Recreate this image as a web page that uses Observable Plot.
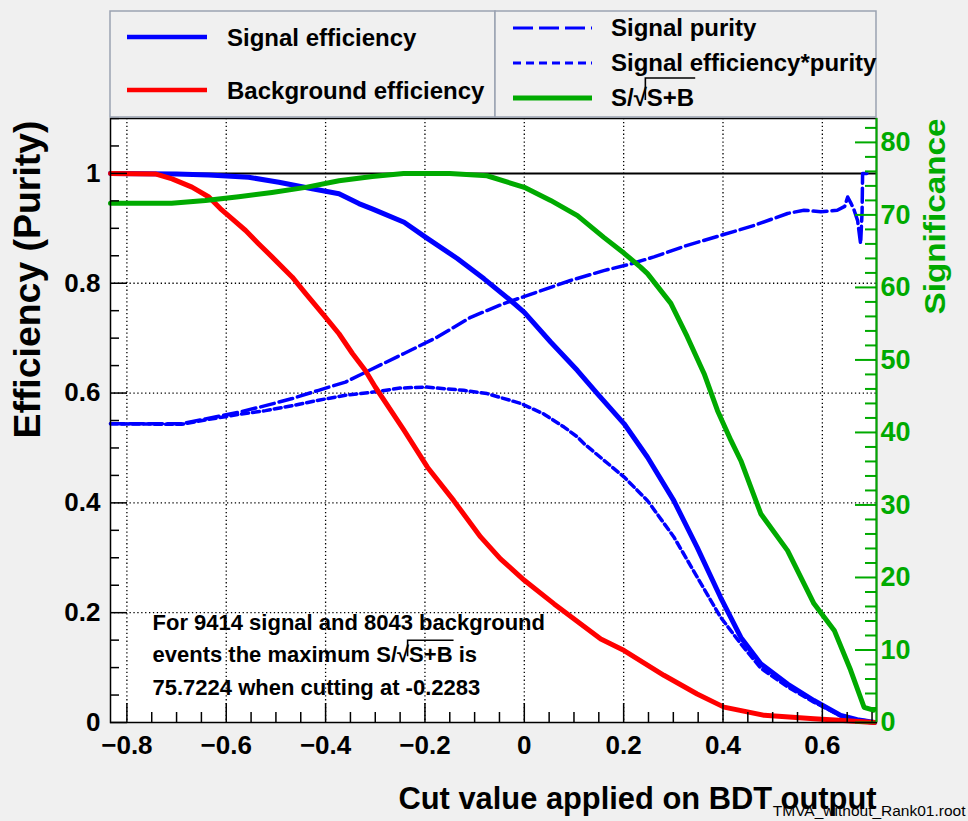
<!DOCTYPE html>
<html><head><meta charset="utf-8">
<script src="https://cdn.jsdelivr.net/npm/d3@7"></script>
<script src="https://cdn.jsdelivr.net/npm/@observablehq/plot@0.6"></script>
<style>
html,body{margin:0;padding:0;background:#f0f0f0;}
#chart{position:relative;width:968px;height:821px;overflow:hidden;}
#chart svg{display:block;}
</style></head><body><div id="chart"></div>
<script>
const FONT = "'Liberation Sans', Arial, Helvetica, sans-serif";

// ---------------- data ----------------
const sigEffX = [-0.833,-0.70,-0.635,-0.555,-0.494,-0.427,-0.373,-0.333,-0.305,-0.242,-0.199,-0.135,-0.081,-0.028,0.0,0.053,0.107,0.147,0.201,0.248,0.301,0.348,0.395,0.436,0.476,0.530,0.583,0.637,0.670,0.705];
const sigEffY = [1.0,0.999,0.997,0.993,0.984,0.972,0.963,0.945,0.935,0.911,0.884,0.845,0.808,0.769,0.747,0.693,0.641,0.599,0.544,0.483,0.404,0.319,0.228,0.155,0.107,0.070,0.040,0.013,0.005,0.0];

const bkgEffX = [-0.833,-0.743,-0.709,-0.669,-0.635,-0.612,-0.588,-0.561,-0.535,-0.508,-0.467,-0.440,-0.400,-0.373,-0.346,-0.320,-0.300,-0.242,-0.195,-0.142,-0.088,-0.048,0.0,0.060,0.113,0.154,0.201,0.281,0.348,0.402,0.483,0.583,0.650,0.705];
const bkgEffY = [1.0,0.999,0.990,0.975,0.957,0.936,0.917,0.896,0.872,0.848,0.811,0.781,0.738,0.708,0.672,0.641,0.611,0.532,0.465,0.404,0.338,0.298,0.259,0.216,0.180,0.152,0.131,0.086,0.052,0.028,0.013,0.007,0.003,0.0];

const purityX = [-0.833,-0.69,-0.642,-0.575,-0.521,-0.467,-0.414,-0.360,-0.315,-0.242,-0.175,-0.108,-0.041,0.026,0.093,0.160,0.214,0.261,0.328,0.395,0.462,0.530,0.563,0.597,0.630,0.645,0.651,0.658,0.664,0.671,0.677,0.680,0.681,0.690];
const purityY = [0.544,0.544,0.553,0.565,0.577,0.590,0.605,0.620,0.640,0.672,0.702,0.738,0.763,0.784,0.805,0.823,0.835,0.848,0.869,0.887,0.905,0.927,0.933,0.930,0.933,0.940,0.957,0.945,0.933,0.914,0.872,0.930,1.0,1.0];

const effPurX = [-0.833,-0.69,-0.642,-0.575,-0.521,-0.467,-0.414,-0.360,-0.310,-0.250,-0.199,-0.122,-0.075,-0.007,0.039,0.080,0.107,0.120,0.201,0.248,0.301,0.348,0.395,0.436,0.476,0.530,0.583,0.637,0.670,0.690];
const effPurY = [0.544,0.543,0.551,0.561,0.568,0.577,0.587,0.596,0.601,0.609,0.611,0.605,0.599,0.581,0.562,0.538,0.520,0.508,0.447,0.404,0.338,0.265,0.192,0.143,0.099,0.065,0.037,0.012,0.005,0.003];

const signifX = [-0.833,-0.71,-0.642,-0.575,-0.508,-0.440,-0.373,-0.306,-0.243,-0.15,-0.075,0.0,0.053,0.107,0.160,0.201,0.234,0.248,0.295,0.328,0.362,0.389,0.416,0.436,0.476,0.530,0.583,0.624,0.657,0.684,0.703];
const signifY = [71.6,71.6,72.0,72.5,73.1,73.8,74.7,75.3,75.7,75.7,75.4,73.8,72.0,69.9,66.9,64.7,62.8,61.9,57.8,53.2,48.1,43.0,38.9,36.1,28.8,23.7,16.4,12.7,7.2,2.1,1.7];

const maxSignificance = 75.7224;
const xTickLabels = [-0.8,-0.6,-0.4,-0.2,0,0.2,0.4,0.6];
const yTickLabels = [0,0.2,0.4,0.6,0.8,1];
const sigTickLabels = [0,10,20,30,40,50,60,70,80];
const legendLeft = ["Signal efficiency","Background efficiency"];
const legendRight = ["Signal purity","Signal efficiency*purity","S/√S+B"];
const noteLines = ["For 9414 signal and 8043 background","events the maximum S/√S+B is","75.7224 when cutting at -0.2283"];
const xTitle = "Cut value applied on BDT output";
const yTitle = "Efficiency (Purity)";
const y2Title = "Significance";
const fileName = "TMVA_without_Rank01.root";

// ---------------- helpers ----------------
const pts = (xs, ys, k = 1) => xs.map((x, i) => ({x, y: ys[i] / k}));
const xMin = -0.833, xMax = 0.709;
const W = 968, H = 821, mL = 110, mR = 92, mT = 118, mB = 99;
const fw = W - mL - mR, fh = H - mT - mB;
const GREEN = "#00aa00", BLUE = "#0000ff", RED = "#ff0000";
const near = (v, s) => Math.abs(v / s - Math.round(v / s)) < 1e-6;
const xMinor = d3.range(-16, 15).map(i => +(i * 0.05).toFixed(2)).filter(v => v >= xMin && v <= xMax && !near(v, 0.2));
const yMinor = d3.range(0, 23).map(i => +(i * 0.05).toFixed(2)).filter(v => v <= 1.1 && !near(v, 0.2) && v !== 1);
const sigMinor = d3.range(0, 42).map(i => i * 2).filter(v => v % 10 !== 0 && v / maxSignificance <= 1.1);
const fmt = d => String(d).replace("-", "\u2212");
const grid = {stroke: "black", strokeOpacity: 1, strokeWidth: 1.3, strokeDasharray: "1.3,2.6"};
const txt = {fontFamily: FONT, fontWeight: "bold"};

const plot = Plot.plot({
  width: W, height: H,
  marginLeft: mL, marginRight: mR, marginTop: mT, marginBottom: mB,
  x: {domain: [xMin, xMax]},
  y: {domain: [0, 1.1]},
  style: {background: "#f0f0f0", fontFamily: FONT, fontWeight: "bold", overflow: "visible"},
  marks: [
    Plot.frame({fill: "white"}),
    Plot.gridX(xTickLabels, grid),
    Plot.gridY(yTickLabels.filter(d => d > 0 && d < 1), grid),
    Plot.ruleY([1], {stroke: "black", strokeWidth: 2}),
    Plot.line(pts(purityX, purityY), {x: "x", y: "y", stroke: BLUE, strokeWidth: 3.5, strokeDasharray: "14,5"}),
    Plot.line(pts(effPurX, effPurY), {x: "x", y: "y", stroke: BLUE, strokeWidth: 3.5, strokeDasharray: "7,4"}),
    Plot.line(pts(sigEffX, sigEffY), {x: "x", y: "y", stroke: BLUE, strokeWidth: 5}),
    Plot.line(pts(bkgEffX, bkgEffY), {x: "x", y: "y", stroke: RED, strokeWidth: 5}),
    Plot.line(pts(signifX, signifY, maxSignificance), {x: "x", y: "y", stroke: GREEN, strokeWidth: 5}),
    // ticks
    Plot.tickX(xTickLabels, {x: d => d, stroke: "black", strokeWidth: 1.5, insetTop: fh - 19}),
    Plot.tickX(xMinor, {x: d => d, stroke: "black", strokeWidth: 1.5, insetTop: fh - 10}),
    Plot.tickY(yTickLabels, {y: d => d, stroke: "black", strokeWidth: 1.5, insetRight: fw - 17}),
    Plot.tickY(yMinor, {y: d => d, stroke: "black", strokeWidth: 1.5, insetRight: fw - 9}),
    Plot.tickY(sigTickLabels, {y: d => d / maxSignificance, stroke: GREEN, strokeWidth: 2, insetLeft: fw - 21}),
    Plot.tickY(sigMinor, {y: d => d / maxSignificance, stroke: GREEN, strokeWidth: 2, insetLeft: fw - 11}),
    // tick labels
    Plot.axisX(xTickLabels, {anchor: "bottom", tickSize: 0, tickPadding: 13, tickFormat: fmt, fontSize: 26, ...txt, label: null}),
    Plot.axisY(yTickLabels, {anchor: "left", tickSize: 0, tickPadding: 10, tickFormat: fmt, fontSize: 26, ...txt, label: null}),
    Plot.axisY(sigTickLabels.map(s => s / maxSignificance), {anchor: "right", tickSize: 0, tickPadding: 4, tickFormat: d => String(Math.round(d * maxSignificance)), fontSize: 27, ...txt, fill: GREEN, color: GREEN, label: null}),
    // frame
    Plot.frame({stroke: "black", strokeWidth: 1.5}),
    Plot.ruleX([xMax], {stroke: GREEN, strokeWidth: 2}),
    // annotation
    Plot.text([noteLines.join("\n")], {frameAnchor: "bottom-left", dx: 42, dy: -116, lineAnchor: "top", textAnchor: "start", lineHeight: 1.48, fontSize: 22, ...txt, fill: "black"}),
    // file name and titles
    Plot.text([fileName], {frameAnchor: "bottom-right", dx: 89, dy: 93, textAnchor: "end", fontSize: 15.5, fontFamily: FONT, fontWeight: "normal", fill: "black"}),
    Plot.text([xTitle], {frameAnchor: "bottom-right", dx: 0, dy: 86, textAnchor: "end", fontSize: 32, ...txt, fill: "black"}),
    Plot.text([yTitle], {frameAnchor: "top-left", dx: -96, dy: 2, rotate: -90, textAnchor: "end", fontSize: 36, ...txt, fill: "black"}),
    Plot.text([y2Title], {frameAnchor: "top-right", dx: 47, dy: 0, rotate: -90, textAnchor: "end", fontSize: 30, ...txt, fill: GREEN})
  ]
});

const chart = document.getElementById("chart");
chart.appendChild(plot);

// ---------------- legend ----------------
const L = d3.create("svg").attr("width", W).attr("height", 122)
  .style("position", "absolute").style("left", "0px").style("top", "0px")
  .attr("font-family", FONT).attr("font-weight", "bold").attr("font-size", 24);
L.append("rect").attr("x", 110).attr("y", 11).attr("width", 385).attr("height", 106)
  .attr("fill", "#f0f0f0").attr("stroke", "#9aa2b1").attr("stroke-width", 1.5);
L.append("rect").attr("x", 495).attr("y", 11).attr("width", 381).attr("height", 106)
  .attr("fill", "#f0f0f0").attr("stroke", "#9aa2b1").attr("stroke-width", 1.5);
const leftRows = [37, 90], leftCols = [BLUE, RED];
legendLeft.forEach((name, i) => {
  L.append("line").attr("x1", 127).attr("x2", 207).attr("y1", leftRows[i]).attr("y2", leftRows[i])
    .attr("stroke", leftCols[i]).attr("stroke-width", 4.5);
  L.append("text").attr("x", 227).attr("y", leftRows[i] + 9).text(name);
});
const rightRows = [28, 63, 98];
const rightStyles = [[BLUE, 3, "20,6"], [BLUE, 3, "8,5"], [GREEN, 5, null]];
legendRight.forEach((name, i) => {
  const ln = L.append("line").attr("x1", 513).attr("x2", 592).attr("y1", rightRows[i]).attr("y2", rightRows[i])
    .attr("stroke", rightStyles[i][0]).attr("stroke-width", rightStyles[i][1]);
  if (rightStyles[i][2]) ln.attr("stroke-dasharray", rightStyles[i][2]);
  L.append("text").attr("x", 611).attr("y", rightRows[i] + 8).text(name);
});
chart.appendChild(L.node());

// ---------------- radical bars ----------------
function radicalBar(textEl, lift) {
  const s = textEl.textContent;
  const i = s.indexOf("\u221A");
  if (i < 0) return;
  const j = s.indexOf("B", i);
  const a = textEl.getExtentOfChar(i);
  const b = textEl.getExtentOfChar(j);
  const base = textEl.getStartPositionOfChar(i).y;
  const yTop = a.y + 2 - lift;
  const xr = a.x + a.width - 1.5;
  const g = d3.select(textEl.parentNode);
  const tr = textEl.getAttribute("transform");
  const p = g.append("path")
    .attr("d", `M${xr},${base - 6}L${xr},${yTop}L${b.x + b.width + 1},${yTop}`)
    .attr("fill", "none").attr("stroke", "black").attr("stroke-width", 1.6);
  if (tr) p.attr("transform", tr);
}
d3.select(plot).selectAll("text").each(function () {
  if (this.textContent.includes("\u221A") && this.parentNode.tagName.toLowerCase() === "g") radicalBar(this, 4);
});
L.selectAll("text").each(function () {
  if (this.textContent.includes("\u221A")) radicalBar(this, 8);
});

// match title extents
d3.select(plot).selectAll("text").each(function () {
  const t = this.textContent;
  if (t === xTitle) d3.select(this).attr("textLength", 478).attr("lengthAdjust", "spacingAndGlyphs");
  if (t === yTitle) d3.select(this).attr("textLength", 318).attr("lengthAdjust", "spacingAndGlyphs");
  if (t === y2Title) d3.select(this).attr("textLength", 196).attr("lengthAdjust", "spacingAndGlyphs");
});
</script></body></html>
